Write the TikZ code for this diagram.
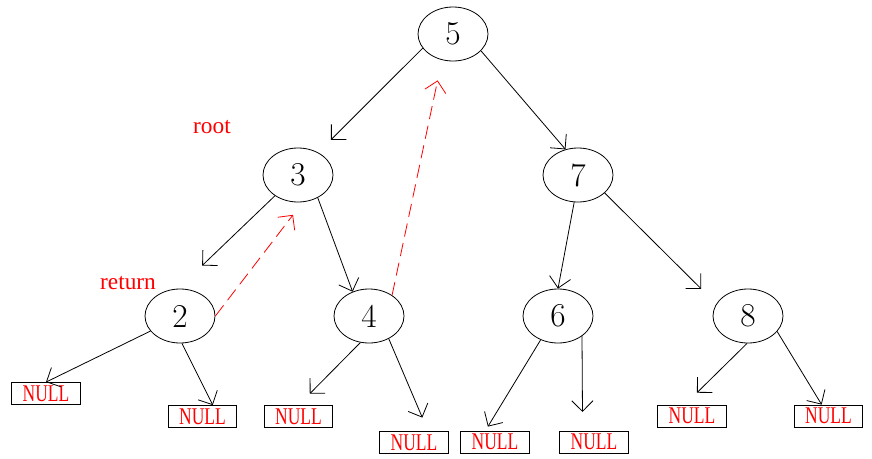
\documentclass[tikz,border=0pt]{standalone}
\usepackage{fontspec}
\usepackage{graphicx}
\usetikzlibrary{arrows.meta,shapes.geometric}
\newfontfamily\labelfont{Liberation Serif}
\newcommand{\nulltxt}{\scalebox{0.73}[1]{NULL}}

\begin{document}
\begin{tikzpicture}[
	x = 0.75pt, y = -0.75pt,
	tnode/.style = {draw, ellipse, line width=0.6pt, inner sep=0pt,
		minimum width=52.5pt, minimum height=40.5pt, font=\fontsize{25}{30}\selectfont},
	nullbox/.style = {draw, rectangle, line width=0.6pt, inner sep=0pt,
		minimum width=51.5pt, minimum height=16.5pt, text=red, font=\labelfont\fontsize{18}{18}\selectfont},
	link/.style = {line width=0.6pt, -{Straight Barb[length=8pt, width=16pt]}},
	retlink/.style = {link, red, dash pattern=on 10pt off 5pt},
	lbl/.style = {red, font=\labelfont\fontsize{17.5}{20}\selectfont}
]
\useasboundingbox (0,0) rectangle (872,458);

\foreach \n/\x/\y in {5/453/34, 3/298/175, 7/578/175, 2/180/316, 4/369/316, 6/558/316, 8/748/316}
	\node[tnode] (n\n) at (\x,\y) {\n};

\foreach \n/\x/\y in {a/46/393.5, b/202.5/416.5, c/298.5/416.5, d/414/442.5,
		e/495/442, f/594/442, g/692/416, h/828.5/416}
	\node[nullbox] (null\n) at (\x,\y) {\nulltxt};

\node[lbl] (root) at (212,127) {root};
\node[lbl] (ret) at (128,283) {return};

\foreach \a/\b/\s in {n5.205/n3.48/13.5, n5.329/n7.116/0, n3.222/n2.94/25, n3.311/n4.124/0,
		n7.262/n6.north/0, n7.326/n8.159/16, n2.207/nulla.north/0, n2.274/nullb.48/0,
		n4.252/nullc.north/12, n4.311/nulld.39/11, n6.234/nulle.130/3.5, n6.320/nullf.135/14,
		n8.268/nullg.122/12.7, n8.332/nullh.121/0}
	\draw[link, shorten >=\s pt] (\a) -- (\b);

% return path
\draw[retlink, shorten >=12pt] (n2.east) -- (n3.280);
\draw[retlink, shorten >=15.6pt] (n4.42) -- (n5.247);
\end{tikzpicture}
\end{document}
